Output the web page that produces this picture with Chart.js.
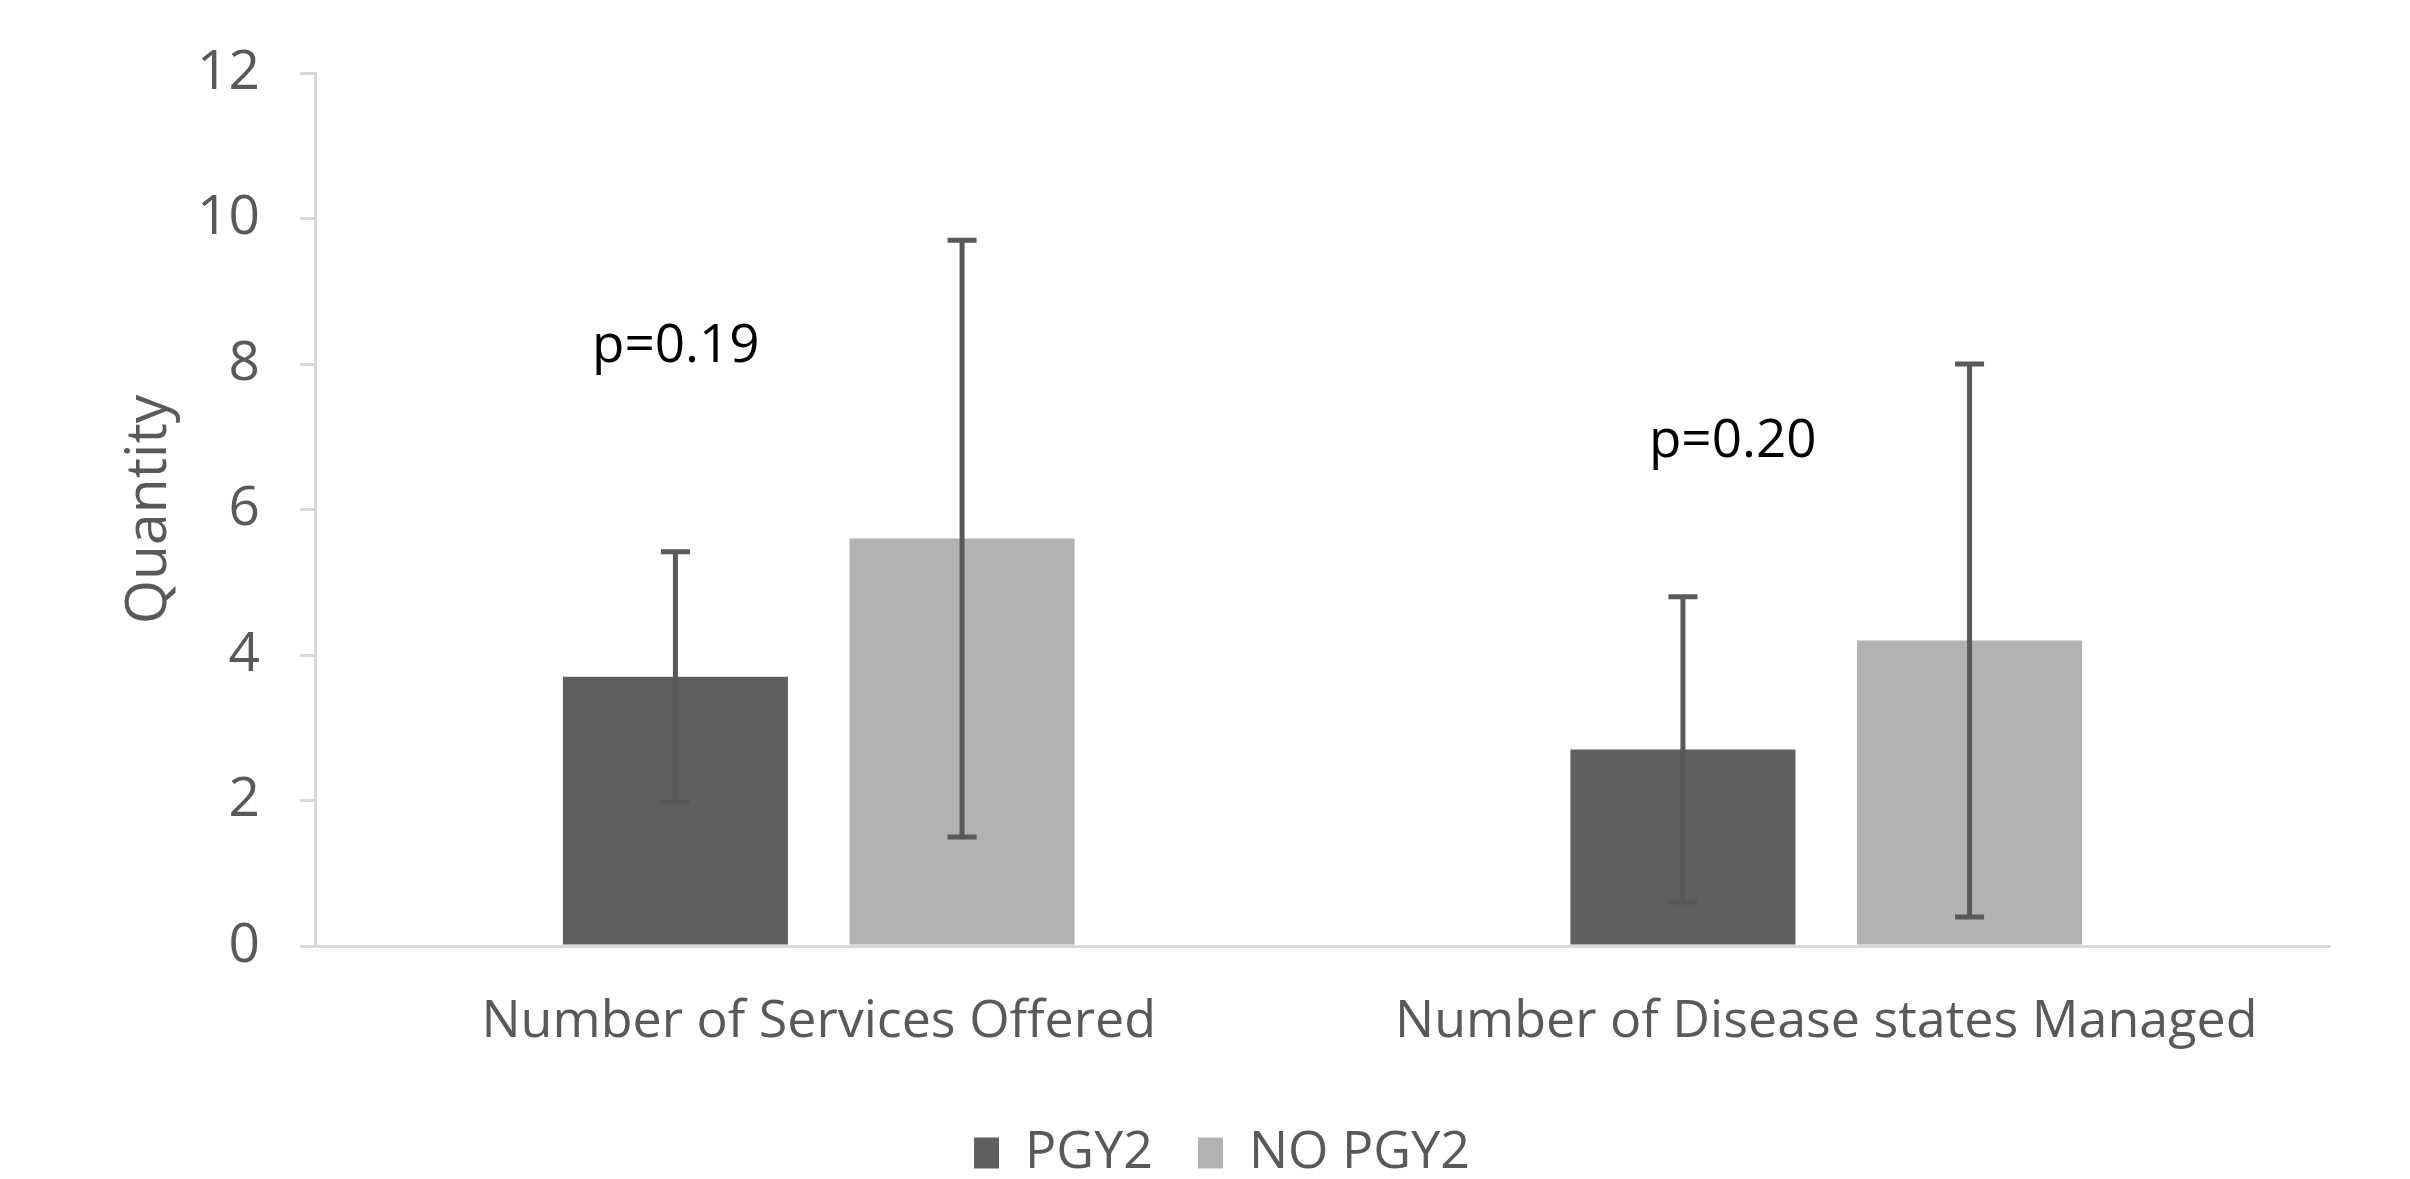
<!DOCTYPE html>
<html>
<head>
<meta charset="utf-8">
<script src="https://cdn.jsdelivr.net/npm/chart.js@4/dist/chart.umd.min.js"></script>
<style>
  html, body { margin: 0; padding: 0; background: #ffffff; }
  #wrap { width: 2410px; height: 1179px; }
</style>
</head>
<body>
<div id="wrap"><canvas id="c" width="2410" height="1179"></canvas></div>
<script>
// ---- data ----
const categories = ['Number of Services Offered', 'Number of Disease states Managed'];
const seriesNames = ['PGY2', 'NO PGY2'];
const pgy2 = [3.7, 2.7];
const noPgy2 = [5.6, 4.2];
const pgy2Err = [1.72, 2.1];
const noPgy2Err = [4.1, 3.8];
const pValues = ['p=0.19', 'p=0.20'];
const yMin = 0, yMax = 12, yStep = 2;

// ---- plugin: error bars + p-value annotations ----
const errorBarPlugin = {
  id: 'errorBars',
  afterDatasetsDraw(chart, args, opts) {
    const ctx = chart.ctx;
    const y = chart.scales.y;
    const x = chart.scales.x;
    const errs = [pgy2Err, noPgy2Err];
    ctx.save();
    ctx.strokeStyle = opts.color;
    ctx.lineWidth = opts.lineWidth;
    chart.data.datasets.forEach((ds, i) => {
      const meta = chart.getDatasetMeta(i);
      meta.data.forEach((bar, j) => {
        const v = ds.data[j], e = errs[i][j];
        const yt = y.getPixelForValue(v + e);
        const yb = y.getPixelForValue(v - e);
        const half = opts.capWidth / 2;
        ctx.beginPath();
        ctx.moveTo(bar.x, yt); ctx.lineTo(bar.x, yb);
        ctx.moveTo(bar.x - half, yt); ctx.lineTo(bar.x + half, yt);
        ctx.moveTo(bar.x - half, yb); ctx.lineTo(bar.x + half, yb);
        ctx.stroke();
      });
    });
    // p-value labels
    ctx.fillStyle = opts.textColor;
    ctx.font = opts.textFont;
    ctx.textAlign = 'left';
    ctx.textBaseline = 'alphabetic';
    pValues.forEach((t, k) => {
      const px = x.getPixelForValue(opts.anchorX[k]);
      const py = y.getPixelForValue(opts.anchorY[k]);
      ctx.fillText(t, px, py);
    });
    ctx.restore();
  }
};

const axisColor = '#d9d9d9';
const textGray = '#595959';

new Chart(document.getElementById('c'), {
  type: 'bar',
  data: {
    labels: categories,
    datasets: [
      { label: seriesNames[0], data: pgy2, backgroundColor: '#5f5f5f', categoryPercentage: 0.569, barPercentage: 0.785 },
      { label: seriesNames[1], data: noPgy2, backgroundColor: '#b2b2b2', categoryPercentage: 0.569, barPercentage: 0.785 }
    ]
  },
  options: {
    responsive: false,
    animation: false,
    devicePixelRatio: 1,
    layout: { padding: { top: 63, right: 80, bottom: -10, left: 114 } },
    plugins: {
      tooltip: { enabled: false },
      legend: {
        position: 'bottom',
        labels: {
          color: textGray,
          font: { family: 'Open Sans', size: 52 },
          boxWidth: 25,
          boxHeight: 31,
          padding: 45
        }
      },
      errorBars: {
        color: '#595959',
        lineWidth: 5,
        capWidth: 29,
        textColor: '#000000',
        textFont: '53px "Open Sans"',
        anchorX: [-0.225, 0.824],
        anchorY: [8.03, 6.72]
      }
    },
    scales: {
      x: {
        border: { display: true, color: axisColor, width: 3 },
        grid: { display: false, drawTicks: false },
        ticks: {
          color: textGray,
          font: { family: 'Open Sans', size: 52 },
          padding: 45,
          maxRotation: 0
        },
        afterFit(scale) { scale.height = 136; }
      },
      y: {
        min: yMin,
        max: yMax,
        border: { display: true, color: axisColor, width: 3 },
        grid: {
          display: true,
          drawOnChartArea: false,
          drawTicks: true,
          tickLength: 15,
          color: axisColor,
          lineWidth: 3
        },
        ticks: {
          stepSize: yStep,
          color: textGray,
          font: { family: 'Open Sans', size: 55 },
          padding: 40
        },
        title: {
          display: true,
          text: 'Quantity',
          color: textGray,
          font: { family: 'Open Sans', size: 57 },
          padding: { top: 2, bottom: 0 }
        },
        afterFit(scale) { scale.width = 201; }
      }
    }
  },
  plugins: [errorBarPlugin]
});
</script>
</body>
</html>
